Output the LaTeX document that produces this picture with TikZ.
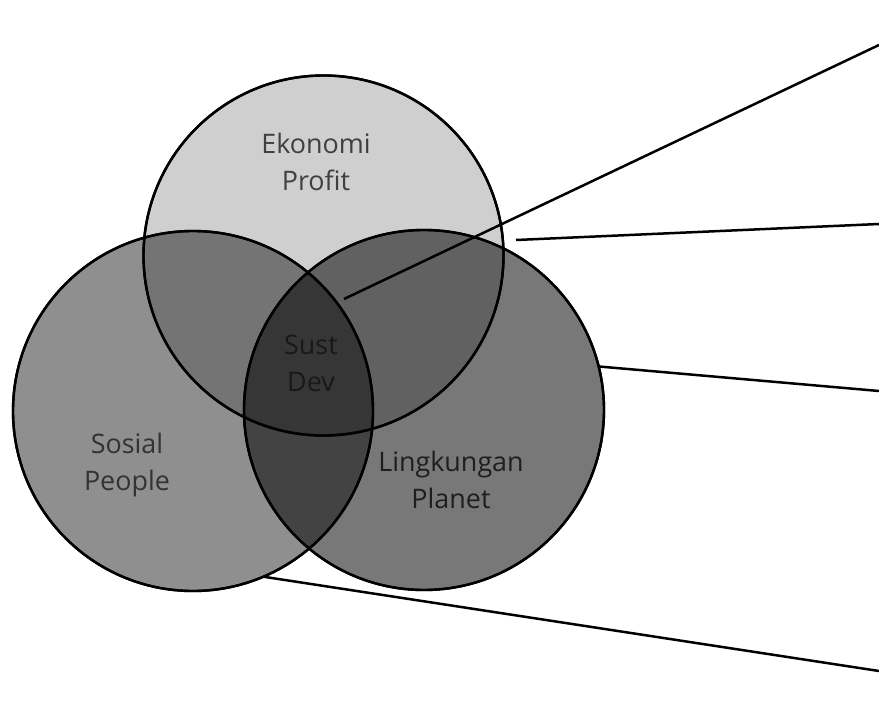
\documentclass[tikz,border=0pt]{standalone}
\usepackage{fontspec}
\setmainfont{Open Sans}
\begin{document}
\begin{tikzpicture}[x=1bp,y=-1bp,
  venn/.style={circle, minimum size=360bp, inner sep=0pt, outer sep=0pt, draw=black, line width=2.4bp, fill=black},
  lbl/.style={align=center, font=\fontsize{27}{37}\selectfont, text=black!80},
  leader/.style={draw=black, line width=2.5bp}]
\useasboundingbox (0,0) rectangle (879,720);
\fill[white] (0,0) rectangle (879,720);
% circles
\node[venn, fill opacity=0.19] (eko) at (323.5,255.5) {};
\node[venn, fill opacity=0.44] (sos) at (193,411) {};
\node[venn, fill opacity=0.53] (lin) at (424,410) {};
% outlines again on top
\draw[line width=2.4bp] (eko.center) circle (180bp);
\draw[line width=2.4bp] (sos.center) circle (180bp);
\draw[line width=2.4bp] (lin.center) circle (180bp);
% leader lines
\coordinate (c1) at (344,299);
\coordinate (e1) at (879,45);
\coordinate (c2) at (516,240);
\coordinate (e2) at (879,224);
\coordinate (e3) at (879,391);
\coordinate (e4) at (879,671);
\draw[leader] (c1) -- (e1);
\draw[leader] (c2) -- (e2);
\draw[leader] (lin.14) -- (e3);
\draw[leader] (sos.-67) -- (e4);
% labels
\node[lbl, text=black!75] (teko) at (316,162) {Ekonomi\\Profit};
\node[lbl] (tsos) at (127,465) {Sosial\\People};
\node[lbl, text=black!88] (tlin) at (451,480) {Lingkungan\\Planet};
\node[lbl, text=black!90] (tsd) at (311,363) {Sust\\Dev};
\end{tikzpicture}
\end{document}
